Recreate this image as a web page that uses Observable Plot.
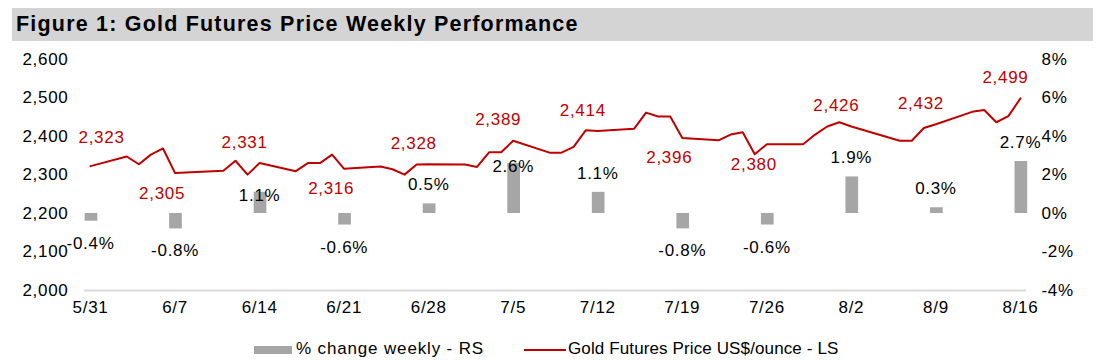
<!DOCTYPE html>
<html><head><meta charset="utf-8">
<script src="https://cdn.jsdelivr.net/npm/d3@7"></script>
<script src="https://cdn.jsdelivr.net/npm/@observablehq/plot@0.6"></script>
<style>
body{margin:0;background:#fff;font-family:"Liberation Sans",Arial,sans-serif;}
#wrap{position:relative;width:1108px;height:363px;overflow:hidden;background:#fff;}
#title{position:absolute;left:12px;top:8px;width:1081px;height:33px;background:#d4d4d4;font-weight:bold;font-size:21.5px;letter-spacing:1.2px;line-height:33px;padding-left:4px;box-sizing:border-box;color:#000;white-space:nowrap;}
#chart{position:absolute;left:0;top:40px;}
.leg{position:absolute;font-size:17px;color:#000;line-height:20px;white-space:nowrap;}
.sw{position:absolute;}
</style></head><body>
<div id="wrap">
  <div id="title">Figure 1: Gold Futures Price Weekly Performance</div>
  <div id="chart"></div>
  <div class="sw" style="left:254px;top:346px;width:38px;height:8px;background:#a6a6a6"></div>
  <div class="leg" style="left:296px;top:339px;letter-spacing:0.85px">% change weekly - RS</div>
  <div class="sw" style="left:524px;top:349px;width:42px;height:2px;background:#c00000"></div>
  <div class="leg" style="left:568px;top:339px;letter-spacing:0.12px">Gold Futures Price US$/ounce - LS</div>
</div>
<script>
// Daily gold futures price (US$/ounce)
const priceDates = ["2024-05-31","2024-06-03","2024-06-04","2024-06-05","2024-06-06","2024-06-07",
  "2024-06-11","2024-06-12","2024-06-13","2024-06-14","2024-06-17","2024-06-18","2024-06-19","2024-06-20","2024-06-21",
  "2024-06-24","2024-06-25","2024-06-26","2024-06-27","2024-06-28","2024-07-01","2024-07-02","2024-07-03","2024-07-04","2024-07-05",
  "2024-07-08","2024-07-09","2024-07-10","2024-07-11","2024-07-12","2024-07-15","2024-07-16","2024-07-17","2024-07-18","2024-07-19",
  "2024-07-22","2024-07-23","2024-07-24","2024-07-25","2024-07-26","2024-07-29","2024-07-30","2024-07-31","2024-08-01","2024-08-02",
  "2024-08-06","2024-08-07","2024-08-08","2024-08-09","2024-08-12","2024-08-13","2024-08-14","2024-08-15","2024-08-16"];
const prices = [2323,2348,2328,2353,2369,2305,
  2311,2337,2301,2331,2310,2331,2331,2353,2316,
  2322,2315,2301,2327,2328,2327,2321,2359,2359,2389,
  2358,2358,2373,2416,2414,2420,2462,2452,2452,2396,
  2390,2405,2411,2354,2380,2380,2405,2426,2437,2426,
  2389,2389,2422,2432,2464,2469,2437,2453,2499];
// Weekly % change
const weekDates = ["2024-05-31","2024-06-07","2024-06-14","2024-06-21","2024-06-28","2024-07-05",
  "2024-07-12","2024-07-19","2024-07-26","2024-08-02","2024-08-09","2024-08-16"];
const weeklyChange = [-0.4,-0.8,1.1,-0.6,0.5,2.6,1.1,-0.8,-0.6,1.9,0.3,2.7];
// Axis ticks
const leftTicks = [2000,2100,2200,2300,2400,2500,2600];
const rightTicks = [-4,-2,0,2,4,6,8];

const parse = d3.utcParse("%Y-%m-%d");
const DAY = 864e5;
const priceData = priceDates.map((d,i)=>({date:parse(d), price:prices[i]}));
const priceByDate = new Map(priceData.map(d=>[+d.date, d.price]));
const weekData = weekDates.map((d,i)=>({key:d, i, date:parse(d), pct:weeklyChange[i], price:priceByDate.get(+parse(d))}));
// right axis (%) mapped onto the left price scale: -4% -> 2000, 8% -> 2600
const pctToY = p => 2200 + p*50;
const insideLabels = new Set(["2024-06-14","2024-07-05"]);
const fmt = d3.format(",");
const font = '"Liberation Sans",Arial,sans-serif';

const chart = Plot.plot({
  width:1108, height:290,
  marginTop:19, marginBottom:40, marginLeft:84, marginRight:82,
  style:{fontFamily:font, fontSize:"17px", color:"#000", background:"transparent", letterSpacing:"0.7px"},
  x:{type:"utc", domain:[new Date(+parse(weekDates[0]) - DAY/2), new Date(+parse(weekDates[weekDates.length-1]) + DAY/2)]},
  y:{domain:[2000,2600]},
  marks:[
    Plot.axisY(leftTicks, {anchor:"left", tickSize:0, tickPadding:16, tickFormat:fmt, label:null}),
    Plot.axisY(rightTicks.map(pctToY), {anchor:"right", tickSize:0, tickPadding:15, tickFormat:v=>Math.round((v-2200)/50)+"%", label:null}),
    Plot.axisX(weekDates.map(parse), {anchor:"bottom", tickSize:0, tickPadding:10, tickFormat:d3.utcFormat("%-m/%-d"), label:null}),
    Plot.ruleY([2000], {stroke:"#d9d9d9", strokeWidth:2}),
    Plot.rect(weekData, {x1:d=>new Date(+d.date - 0.45*DAY), x2:d=>new Date(+d.date + 0.6*DAY), y1:()=>pctToY(0), y2:d=>pctToY(d.pct), fill:"#a6a6a6"}),
    Plot.line(priceData, {x:"date", y:"price", stroke:"#c00000", strokeWidth:2}),
    // weekly % labels
    Plot.text(weekData, {filter:d=>d.pct>=0 && !insideLabels.has(d.key), x:"date", y:d=>pctToY(d.pct), text:d=>d.pct.toFixed(1)+"%", dy:-19, fill:"#000"}),
    Plot.text(weekData, {filter:d=>insideLabels.has(d.key), x:"date", y:d=>pctToY(d.pct), text:d=>d.pct.toFixed(1)+"%", dy:3, fill:"#000"}),
    Plot.text(weekData, {filter:d=>d.pct<0, x:"date", y:d=>pctToY(d.pct), text:d=>d.pct.toFixed(1)+"%", dy:22, fill:"#000"}),
    // price labels
    Plot.text(weekData, {filter:d=>d.i===0, x:"date", y:"price", text:d=>fmt(d.price), dx:11, dy:-29, fill:"#c00000"}),
    Plot.text(weekData, {filter:d=>d.i>0 && d.pct>=0, x:"date", y:"price", text:d=>fmt(d.price), dx:-15, dy:-21, fill:"#c00000"}),
    Plot.text(weekData, {filter:d=>d.i>0 && d.pct<0, x:"date", y:"price", text:d=>fmt(d.price), dx:-13, dy:20, fill:"#c00000"})
  ]
});
document.getElementById("chart").appendChild(chart);
</script>
</body></html>
